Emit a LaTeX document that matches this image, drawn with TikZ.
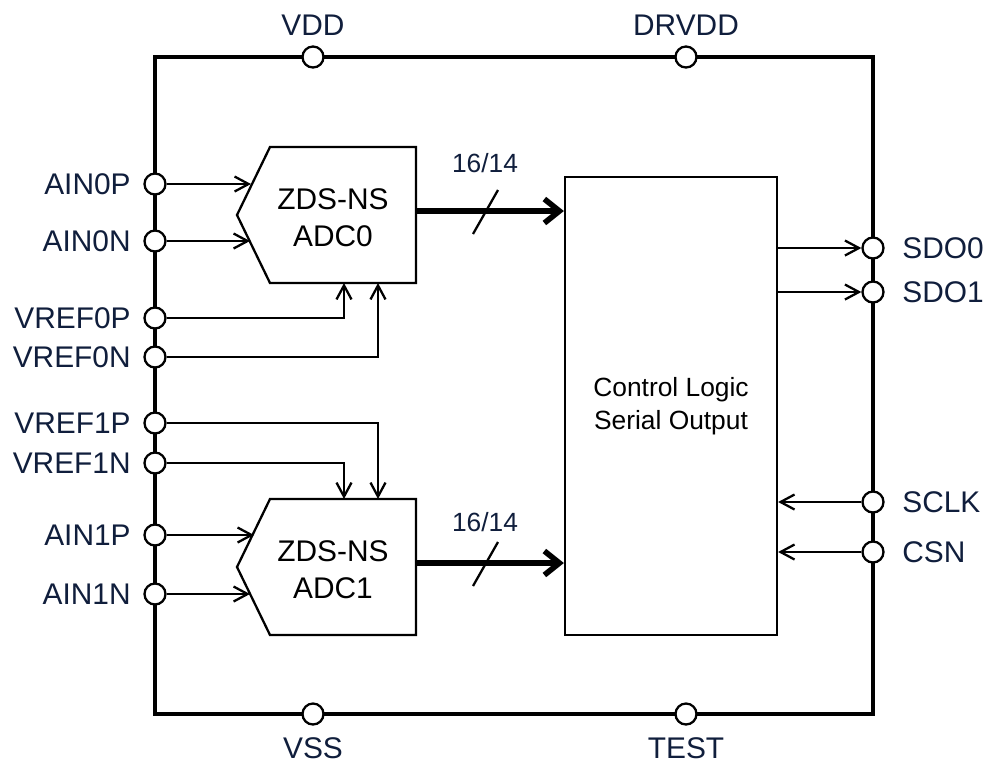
\documentclass[tikz,border=0pt]{standalone}
\usepackage{fontspec}
\setmainfont{Liberation Sans}
\usetikzlibrary{arrows.meta}
\definecolor{pinblue}{RGB}{16,30,60}
\tikzset{
  pad/.style={circle, draw, fill=white, line width=1.3pt, minimum size=0.42cm, inner sep=0pt},
  sig/.style={line width=1.3pt, -{Straight Barb[length=2.8mm,width=3mm]}},
  bus/.style={line width=3.2pt, -{Straight Barb[length=3mm,width=4.8mm]}},
  pinlabel/.style={text=pinblue, inner sep=0pt, font=\fontsize{17}{20}\selectfont},
  blocktext/.style={align=center, inner sep=0pt, font=\fontsize{17}{21}\selectfont}
}
\begin{document}
\begin{tikzpicture}[x=0.02cm, y=-0.02cm]
  \useasboundingbox (0,0) rectangle (988,769);
  \draw[line width=2.6pt] (155,57) rectangle (873,714);

  \draw[line width=1.3pt] (270,147) -- (416,147) -- (416,283) -- (270,283) -- (237,215) -- cycle;
  \node[blocktext] (adc0) at (333,218) {ZDS-NS\\ADC0};
  \draw[line width=1.3pt] (270,499) -- (416,499) -- (416,635) -- (270,635) -- (237,567) -- cycle;
  \node[blocktext] (adc1) at (333,570) {ZDS-NS\\ADC1};
  \node[draw, line width=1.3pt, minimum width=4.24cm, minimum height=9.16cm, align=center,
    font=\fontsize{15}{18.7}\selectfont] (ctrl) at (671,406) {Control Logic\\Serial Output};

  \coordinate (adc0-inp) at (251,184);
  \coordinate (adc0-inn) at (250,241);
  \coordinate (adc0-refp) at (344,283);
  \coordinate (adc0-refn) at (378,283);
  \coordinate (adc0-out) at (416,211);
  \coordinate (adc1-inp) at (254,535);
  \coordinate (adc1-inn) at (250,594);
  \coordinate (adc1-refn) at (344,499);
  \coordinate (adc1-refp) at (378,499);
  \coordinate (adc1-out) at (416,563);

  \foreach \n/\y/\t in {ain0p/184/AIN0P, ain0n/241/AIN0N, vref0p/318/VREF0P, vref0n/357/VREF0N,
      vref1p/423/VREF1P, vref1n/463/VREF1N, ain1p/535/AIN1P, ain1n/594/AIN1N} {
    \node[pad] (\n) at (155,\y) {};
    \node[pinlabel, anchor=east] (\n-lab) at (131,\y) {\t};
  }
  \foreach \n/\y/\t in {sdo0/248/SDO0, sdo1/292/SDO1, sclk/502/SCLK, csn/552/CSN} {
    \node[pad] (\n) at (873,\y) {};
    \node[pinlabel, anchor=west] (\n-lab) at (902,\y) {\t};
  }
  \foreach \n/\x/\t in {vdd/313/VDD, drvdd/686/DRVDD} {
    \node[pad] (\n) at (\x,57) {};
    \node[pinlabel] (\n-lab) at (\x,25) {\t};
  }
  \foreach \n/\x/\t in {vss/313/VSS, test/686/TEST} {
    \node[pad] (\n) at (\x,714) {};
    \node[pinlabel] (\n-lab) at (\x,748) {\t};
  }

  \draw[sig] (ain0p) -- (adc0-inp);
  \draw[sig] (ain0n) -- (adc0-inn);
  \draw[sig] (vref0p) -- (vref0p -| adc0-refp) -- (adc0-refp);
  \draw[sig] (vref0n) -- (vref0n -| adc0-refn) -- (adc0-refn);
  \draw[sig] (vref1p) -- (vref1p -| adc1-refp) -- (adc1-refp);
  \draw[sig] (vref1n) -- (vref1n -| adc1-refn) -- (adc1-refn);
  \draw[sig] (ain1p) -- (adc1-inp);
  \draw[sig] (ain1n) -- (adc1-inn);

  \draw[bus] (adc0-out) -- (adc0-out -| ctrl.west);
  \draw[line width=1.3pt] (473,234) -- (498,190);
  \node[font=\fontsize{15}{18}\selectfont, text=pinblue] (bus0-lab) at (485,163) {16/14};
  \draw[bus] (adc1-out) -- (adc1-out -| ctrl.west);
  \draw[line width=1.3pt] (473,586) -- (498,542);
  \node[font=\fontsize{15}{18}\selectfont, text=pinblue] (bus1-lab) at (485,522) {16/14};

  \draw[sig] (sdo0 -| ctrl.east) -- (sdo0);
  \draw[sig] (sdo1 -| ctrl.east) -- (sdo1);
  \draw[sig] (sclk) -- (sclk -| ctrl.east);
  \draw[sig] (csn) -- (csn -| ctrl.east);
\end{tikzpicture}
\end{document}
